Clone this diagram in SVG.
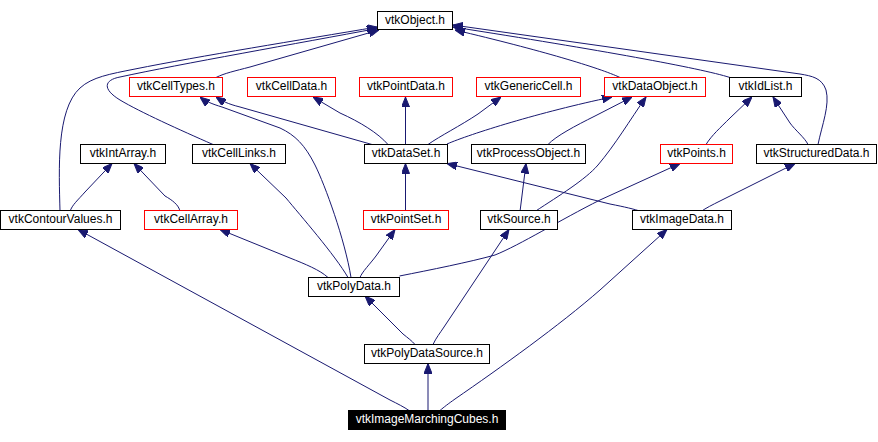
<svg xmlns="http://www.w3.org/2000/svg" width="878" height="442" viewBox="0 0 878 442">
<style>
.n rect{fill:#fff;stroke:#000;stroke-width:1}
.n.r rect{stroke:#f00}
.n.s rect{fill:#000;stroke:#000}
.n text{font-family:"Liberation Sans",Arial,sans-serif;font-size:12px;text-anchor:middle;fill:#000}
.n.s text{fill:#fff}
#edges path{fill:none;stroke:#191970;stroke-width:1;marker-end:url(#ah)}
</style>
<defs>
<marker id="ah" markerUnits="userSpaceOnUse" viewBox="0 0 10 8" refX="10" refY="4" markerWidth="10" markerHeight="8" orient="auto">
<path d="M0,0 L10,4 L0,8 z" fill="#191970" stroke="#191970" stroke-width="1"/>
</marker>
</defs>
<rect width="878" height="442" fill="#fff"/>
<g id="edges">
<path d="M60,211 C59,170 56,110 80,88 C92,77 110,74 135,69 C200,56 300,40 377,27"/>
<path d="M213,144.5 C180,130 140,112 120,100 C102,89 104,80 120,77 C180,64 300,43 377,28.5"/>
<path d="M216,77.5 C225,73 235,71 250,67 L379,30"/>
<path d="M620,77.5 C600,68 540,50 455,30"/>
<path d="M730,77.5 C700,68 600,50 453,27"/>
<path d="M818,144.5 C822,125 830,105 826,90 C822,78 812,76 800,74 L453,25"/>
<path d="M372,144.5 L240,107 C228,104 222,101 216,97"/>
<path d="M351,277.5 C345,240 325,185 315,165 C305,145 295,135 280,128 L222,107 C212,104 205,101 200,97"/>
<path d="M388,144.5 C378,133 360,122 340,113 L313,97"/>
<path d="M405.5,144.5 L405.5,97"/>
<path d="M428,144.5 C440,136 460,126 478,114 L501,97"/>
<path d="M447,144 C470,134 540,112 612,97"/>
<path d="M548,144.5 C556,136 575,126 595,116 L632,97"/>
<path d="M535,211.5 C560,195 585,180 598,165 C615,145 630,120 646,97"/>
<path d="M706,144.5 C712,135 720,128 730,118 L752,97"/>
<path d="M808,144.5 C805,138 795,130 790,123 L773,97"/>
<path d="M70,211.5 C72,205 78,200 85,192 L112,163.5"/>
<path d="M180,211.5 C179,205 172,200 165,196 L134,163.5"/>
<path d="M348,277.5 C335,255 300,215 286,198 L250,163.5"/>
<path d="M328,277.5 C320,270 305,264 290,258 L220,229.5"/>
<path d="M360,277.5 C362,272 370,264 376,256 L395,229.5"/>
<path d="M399.5,276 C430,270 470,262 495,255 C520,245 560,220 600,200 L680,163.5"/>
<path d="M405.5,211.5 L405.5,163.5"/>
<path d="M520,211.5 L526,163.5"/>
<path d="M641,211.5 C634,209 625,207 610,204 L447,163.5"/>
<path d="M701,211.5 C706,208 712,205 720,201 L795,163.5"/>
<path d="M409,410.5 C404,407 398,404 390,400 L78,229.5"/>
<path d="M415,344.5 C412,341 408,338 403,334 L365,296"/>
<path d="M433,344.5 C436,338 440,333 444,327 L509,229.5"/>
<path d="M428,410.5 L428,363.5"/>
<path d="M440,410.5 C444,407 448,404 455,399 C500,368 560,325 600,290 L667,229.5"/>
</g>
<g id="vtkObject" class="n"><rect x="377.5" y="11.5" width="75" height="18"/><text x="415" y="23.5">vtkObject.h</text></g>
<g id="vtkCellTypes" class="n r"><rect x="129.5" y="77.5" width="93" height="19"/><text x="176" y="89.5">vtkCellTypes.h</text></g>
<g id="vtkCellData" class="n r"><rect x="247.5" y="77.5" width="88" height="19"/><text x="291.5" y="89.5">vtkCellData.h</text></g>
<g id="vtkPointData" class="n r"><rect x="359.5" y="77.5" width="93" height="19"/><text x="406" y="89.5">vtkPointData.h</text></g>
<g id="vtkGenericCell" class="n r"><rect x="476.5" y="77.5" width="104" height="19"/><text x="528.5" y="89.5">vtkGenericCell.h</text></g>
<g id="vtkDataObject" class="n r"><rect x="604.5" y="77.5" width="101" height="19"/><text x="655" y="89.5">vtkDataObject.h</text></g>
<g id="vtkIdList" class="n"><rect x="729.5" y="77.5" width="72" height="19"/><text x="765.5" y="89.5">vtkIdList.h</text></g>
<g id="vtkIntArray" class="n"><rect x="80.5" y="144.5" width="85" height="19"/><text x="123" y="156.5">vtkIntArray.h</text></g>
<g id="vtkCellLinks" class="n"><rect x="192.5" y="144.5" width="93" height="19"/><text x="239" y="156.5">vtkCellLinks.h</text></g>
<g id="vtkDataSet" class="n"><rect x="364.5" y="144.5" width="83" height="19"/><text x="406" y="156.5">vtkDataSet.h</text></g>
<g id="vtkProcessObject" class="n"><rect x="471.5" y="144.5" width="114" height="19"/><text x="528.5" y="156.5">vtkProcessObject.h</text></g>
<g id="vtkPoints" class="n r"><rect x="660.5" y="144.5" width="72" height="19"/><text x="696.5" y="156.5">vtkPoints.h</text></g>
<g id="vtkStructuredData" class="n"><rect x="756.5" y="144.5" width="120" height="19"/><text x="816.5" y="156.5">vtkStructuredData.h</text></g>
<g id="vtkContourValues" class="n"><rect x="0.5" y="210.5" width="120" height="19"/><text x="60.5" y="222.5">vtkContourValues.h</text></g>
<g id="vtkCellArray" class="n r"><rect x="144.5" y="210.5" width="93" height="19"/><text x="191" y="222.5">vtkCellArray.h</text></g>
<g id="vtkPointSet" class="n r"><rect x="363.5" y="210.5" width="85" height="19"/><text x="406" y="222.5">vtkPointSet.h</text></g>
<g id="vtkSource" class="n"><rect x="480.5" y="210.5" width="77" height="19"/><text x="519" y="222.5">vtkSource.h</text></g>
<g id="vtkImageData" class="n"><rect x="632.5" y="210.5" width="99" height="19"/><text x="682" y="222.5">vtkImageData.h</text></g>
<g id="vtkPolyData" class="n"><rect x="308.5" y="277.5" width="91" height="19"/><text x="354" y="289.5">vtkPolyData.h</text></g>
<g id="vtkPolyDataSource" class="n"><rect x="364.5" y="344.5" width="125" height="19"/><text x="427" y="356.5">vtkPolyDataSource.h</text></g>
<g id="vtkImageMarchingCubes" class="n s"><rect x="348.5" y="410.5" width="157" height="19"/><text x="427" y="422.5">vtkImageMarchingCubes.h</text></g>
</svg>
